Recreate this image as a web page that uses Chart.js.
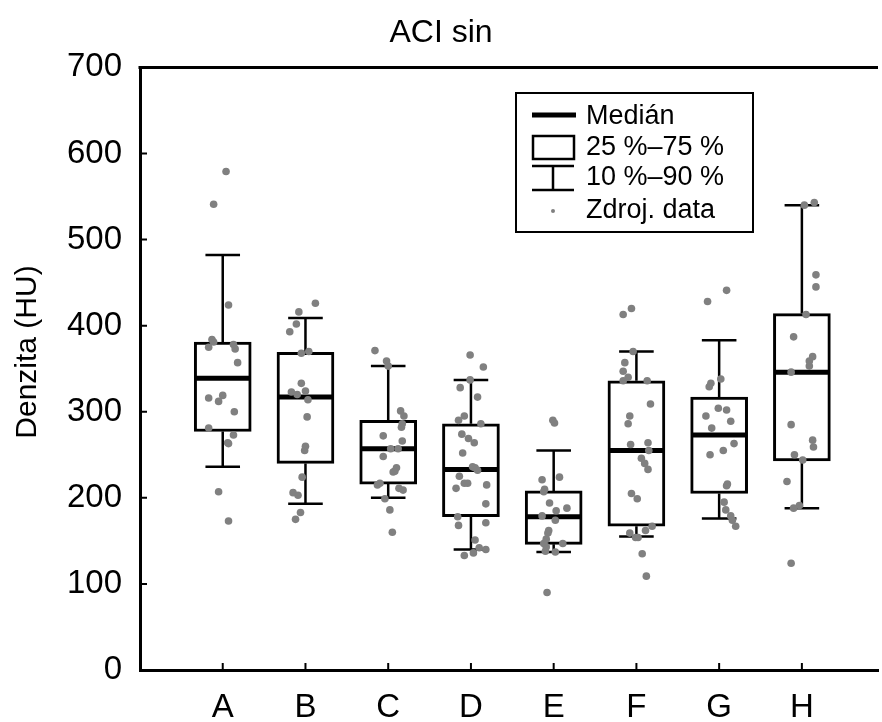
<!DOCTYPE html>
<html>
<head>
<meta charset="utf-8">
<script src="https://cdn.jsdelivr.net/npm/chart.js@4.4.0/dist/chart.umd.min.js"></script>
<style>
html, body { margin: 0; padding: 0; background: #fff; }
</style>
</head>
<body>
<canvas id="chart" width="882" height="722"></canvas>
<script>
// Groups and box statistics (HU)
const groups = ['A', 'B', 'C', 'D', 'E', 'F', 'G', 'H'];
const p10 = [236, 193, 200, 140, 137, 155, 176, 188];
const q1  = [277, 240, 216, 178, 146, 167, 205, 243];
const med = [339, 317, 257, 233, 178, 255, 273, 346];
const q3  = [381, 369, 290, 286, 208, 336, 317, 414];
const p90 = [482, 409, 353, 337, 255, 370, 383, 540];

// Raw data points per group and their horizontal jitter (in group units)
const rawValues = [
    [579, 541, 424, 384, 381, 375, 378, 373, 357, 316, 319, 312, 300, 281, 273, 264, 263, 207, 173],
    [426, 416, 402, 393, 368, 370, 333, 323, 320, 324, 314, 294, 260, 255, 224, 206, 203, 183, 175],
    [371, 359, 353, 301, 295, 286, 282, 272, 266, 257, 257, 248, 235, 231, 230, 217, 215, 211, 209, 199, 186, 160],
    [366, 352, 337, 328, 317, 295, 290, 286, 274, 269, 264, 252, 236, 235, 232, 225, 217, 217, 211, 215, 193, 178, 168, 171, 151, 142, 140, 133, 136],
    [290, 287, 221, 224, 210, 207, 194, 185, 188, 179, 174, 162, 159, 152, 147, 143, 138, 147, 137, 90],
    [420, 413, 370, 357, 347, 340, 336, 336, 309, 295, 286, 262, 264, 255, 246, 240, 233, 205, 199, 167, 162, 159, 154, 154, 135, 109],
    [441, 428, 338, 333, 329, 304, 302, 295, 289, 281, 263, 255, 250, 216, 214, 195, 186, 179, 174, 167],
    [540, 543, 459, 445, 413, 387, 364, 359, 353, 346, 285, 267, 259, 250, 244, 219, 188, 191, 124]
];
const rawJitter = [
    [0.04, -0.11, 0.07, -0.13, -0.11, -0.17, 0.13, 0.15, 0.18, -0.17, 0.0, -0.05, 0.14, -0.17, 0.13, 0.06, 0.07, -0.05, 0.07],
    [0.12, -0.08, -0.11, -0.19, -0.05, 0.04, -0.05, -0.17, -0.10, 0.0, 0.03, 0.02, 0.0, -0.01, -0.04, -0.15, -0.09, -0.06, -0.12],
    [-0.16, -0.02, 0.0, 0.15, 0.19, 0.17, 0.16, -0.06, 0.17, 0.12, 0.03, -0.06, 0.10, 0.08, 0.06, -0.10, -0.13, 0.13, 0.18, -0.04, 0.02, 0.05],
    [-0.01, 0.15, -0.01, -0.13, 0.08, -0.08, -0.15, 0.12, -0.11, -0.03, 0.04, -0.10, 0.02, 0.05, 0.08, -0.14, -0.08, -0.04, -0.18, 0.19, 0.18, -0.16, -0.15, 0.18, 0.05, 0.10, 0.18, -0.08, 0.03],
    [-0.01, 0.01, -0.14, 0.07, -0.11, -0.12, -0.05, 0.03, 0.16, -0.14, 0.02, -0.06, -0.07, -0.09, -0.12, -0.09, -0.10, 0.11, 0.02, -0.08],
    [-0.06, -0.16, -0.04, -0.14, -0.16, -0.10, -0.16, 0.13, 0.17, -0.08, -0.10, -0.07, 0.14, 0.15, 0.06, 0.10, 0.14, -0.06, 0.01, 0.19, 0.11, -0.08, -0.01, 0.02, 0.07, 0.12],
    [0.09, -0.14, 0.02, -0.10, -0.12, -0.01, 0.09, -0.16, 0.14, -0.09, 0.18, 0.05, -0.11, 0.10, 0.09, 0.06, 0.08, 0.14, 0.16, 0.20],
    [0.03, 0.15, 0.17, 0.17, 0.05, -0.10, 0.13, 0.09, 0.09, -0.13, -0.13, 0.13, 0.14, -0.09, 0.01, -0.18, -0.10, -0.03, -0.13]
];
const yTicks = [0, 100, 200, 300, 400, 500, 600, 700];
const legendLabels = ['Medián', '25 %–75 %', '10 %–90 %', 'Zdroj. data'];
const yTitle = 'Denzita (HU)';

const FONT = '"Liberation Sans", Arial, sans-serif';
const BOX_HALF = 0.329;   // half box width, group units
const CAP_HALF = 0.209;   // half whisker cap width

const boxData = groups.map((g, i) => ({ x: i + 1, y: [q1[i], q3[i]] }));
const pointData = rawValues.flatMap((vals, i) =>
    vals.map((v, k) => ({ x: i + 1 + rawJitter[i][k], y: v })));

// whiskers + medians drawn just before the points, then frame, inner ticks, y title and legend
const boxExtras = {
    id: 'boxExtras',
    beforeDatasetDraw(chart, args) {
        if (args.index !== 1) return;
        const { ctx, scales: { x, y } } = chart;
        ctx.save();
        ctx.strokeStyle = '#000';
        groups.forEach((g, i) => {
            const cx = x.getPixelForValue(i + 1);
            const cl = x.getPixelForValue(i + 1 - CAP_HALF);
            const cr = x.getPixelForValue(i + 1 + CAP_HALF);
            ctx.lineWidth = 2.5;
            ctx.beginPath();
            ctx.moveTo(cx, y.getPixelForValue(q3[i]));
            ctx.lineTo(cx, y.getPixelForValue(p90[i]));
            ctx.moveTo(cx, y.getPixelForValue(q1[i]));
            ctx.lineTo(cx, y.getPixelForValue(p10[i]));
            ctx.moveTo(cl, y.getPixelForValue(p90[i]));
            ctx.lineTo(cr, y.getPixelForValue(p90[i]));
            ctx.moveTo(cl, y.getPixelForValue(p10[i]));
            ctx.lineTo(cr, y.getPixelForValue(p10[i]));
            ctx.stroke();

            ctx.lineWidth = 5;
            ctx.beginPath();
            ctx.moveTo(x.getPixelForValue(i + 1 - BOX_HALF), y.getPixelForValue(med[i]));
            ctx.lineTo(x.getPixelForValue(i + 1 + BOX_HALF), y.getPixelForValue(med[i]));
            ctx.stroke();
        });
        ctx.restore();
    },
    afterDraw(chart) {
        const { ctx, chartArea: a, scales: { x, y } } = chart;
        ctx.save();
        ctx.strokeStyle = '#000';
        // top frame line
        ctx.lineWidth = 3;
        ctx.beginPath();
        ctx.moveTo(a.left - 1.5, a.top);
        ctx.lineTo(a.right, a.top);
        ctx.stroke();
        // inward tick marks
        ctx.lineWidth = 2;
        ctx.beginPath();
        x.ticks.forEach(t => {
            const px = x.getPixelForValue(t.value);
            ctx.moveTo(px, a.bottom);
            ctx.lineTo(px, a.bottom - 7);
        });
        y.ticks.forEach(t => {
            const py = y.getPixelForValue(t.value);
            ctx.moveTo(a.left, py);
            ctx.lineTo(a.left + 7, py);
        });
        ctx.stroke();

        // y axis title
        ctx.fillStyle = '#000';
        ctx.font = '30px ' + FONT;
        ctx.textAlign = 'center';
        ctx.textBaseline = 'middle';
        ctx.save();
        ctx.translate(28, 352);
        ctx.rotate(-Math.PI / 2);
        ctx.fillText(yTitle, 0, 0);
        ctx.restore();

        // legend
        ctx.lineWidth = 2;
        ctx.strokeRect(516, 93, 237, 139);
        ctx.lineWidth = 5;
        ctx.beginPath();
        ctx.moveTo(532, 115);
        ctx.lineTo(576, 115);
        ctx.stroke();
        ctx.lineWidth = 2.5;
        ctx.strokeRect(533, 136, 41, 23);
        ctx.beginPath();
        ctx.moveTo(532, 166); ctx.lineTo(574, 166);
        ctx.moveTo(553, 166); ctx.lineTo(553, 190);
        ctx.moveTo(532, 190); ctx.lineTo(574, 190);
        ctx.stroke();
        ctx.fillStyle = '#808080';
        ctx.beginPath();
        ctx.arc(553, 211, 2, 0, Math.PI * 2);
        ctx.fill();
        ctx.fillStyle = '#000';
        ctx.font = '27px ' + FONT;
        ctx.textAlign = 'left';
        [117, 148, 178, 211].forEach((ly, k) => ctx.fillText(legendLabels[k], 586, ly));
        ctx.restore();
    }
};

Chart.defaults.color = '#000';
Chart.defaults.font.family = FONT;

new Chart(document.getElementById('chart'), {
    type: 'bar',
    data: {
        datasets: [{
            type: 'bar',
            data: boxData,
            backgroundColor: '#fff',
            borderColor: '#000',
            borderWidth: 3,
            borderSkipped: false,
            barThickness: 57,
            order: 2
        }, {
            type: 'scatter',
            data: pointData,
            backgroundColor: '#808080',
            borderWidth: 0,
            pointRadius: 3.8,
            order: 1
        }]
    },
    options: {
        responsive: false,
        devicePixelRatio: 1,
        animation: false,
        layout: { padding: 0 },
        plugins: {
            legend: { display: false },
            tooltip: { enabled: false },
            title: {
                display: true,
                text: 'ACI sin',
                font: { size: 32, weight: 'normal' },
                padding: { top: 14, bottom: 15 }
            }
        },
        scales: {
            x: {
                type: 'linear',
                offset: false,
                min: 0,
                max: 8.92,
                grid: { display: false, drawTicks: false },
                border: { display: true, color: '#000', width: 3 },
                afterBuildTicks: s => { s.ticks = groups.map((g, i) => ({ value: i + 1 })); },
                afterFit: s => { s.height = 52; },
                ticks: {
                    padding: 18,
                    font: { size: 33 },
                    callback: v => groups[v - 1]
                }
            },
            y: {
                min: 0,
                max: 700,
                grid: { display: false, drawTicks: false },
                border: { display: true, color: '#000', width: 3 },
                afterBuildTicks: s => { s.ticks = yTicks.map(v => ({ value: v })); },
                afterFit: s => { s.width = 140; },
                ticks: { padding: 18, font: { size: 33 } }
            }
        }
    },
    plugins: [boxExtras]
});
</script>
</body>
</html>
